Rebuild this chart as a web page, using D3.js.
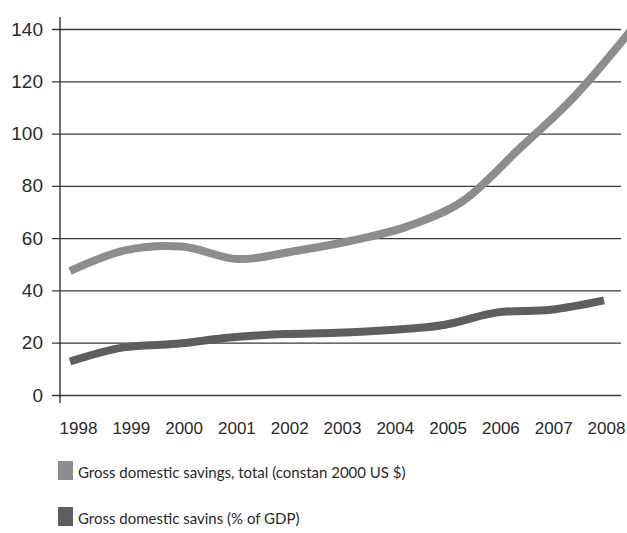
<!DOCTYPE html>
<html>
<head>
<meta charset="utf-8">
<script src="https://cdn.jsdelivr.net/npm/d3@7"></script>
<style>
    body { margin: 0; background: #fff; }
    svg { display: block; font-family: Lato, "Open Sans", sans-serif; }
    .axis text { fill: #2a2a2a; }
</style>
</head>
<body>
<div id="chart"></div>
<script>
//constants
const width = 627,
    height = 533;

//data
const years = ["1998", "1999", "2000", "2001", "2002", "2003", "2004", "2005", "2006", "2007", "2008"];
const savingsTotal = [47.4, 55.4, 56.8, 52.0, 55.0, 58.9, 64.3, 74.0, 93.7, 114, 139];
const savingsPct = [12.8, 18.2, 19.6, 22.0, 23.3, 23.8, 24.9, 26.8, 31.6, 32.6, 36.2];
const yTicks = [0, 20, 40, 60, 80, 100, 120, 140];
const legendLabels = ["Gross domestic savings, total (constan 2000 US $)", "Gross domestic savins (% of GDP)"];
const colors = ["#8d8d8d", "#5e5e60"];

const svg = d3.select("#chart")
    .append("svg")
    .attr("width", width)
    .attr("height", height);

//scales
const yScale = d3.scaleLinear()
    .domain([0, 140])
    .range([395, 29]);

// year labels
const xLabel = d3.scalePoint()
    .domain(years)
    .range([78, 606]);

// the two series are not drawn over the same span in the original
const xTotal = d3.scalePoint().domain(years).range([70, 630]);
const xPct = d3.scalePoint().domain(years).range([70, 604]);

// gridlines + y labels (ticks run from the right edge back past the axis)
const yAxis = d3.axisLeft(yScale)
    .tickValues(yTicks)
    .tickSize(569)
    .tickPadding(9);

const gy = svg.append("g")
    .attr("class", "axis y-axis")
    .attr("transform", `translate(621,0)`)
    .call(yAxis);
gy.select(".domain").remove();
gy.selectAll("line").attr("stroke", "#3a3a3a").attr("stroke-width", 1.3);
gy.selectAll("text").style("font-size", "19px");

// vertical axis line
svg.append("line")
    .attr("x1", 60).attr("x2", 60)
    .attr("y1", 17).attr("y2", 403)
    .attr("stroke", "#222")
    .attr("stroke-width", 1.3);

// x labels
const xAxis = d3.axisBottom(xLabel).tickSize(0).tickPadding(18);
const gx = svg.append("g")
    .attr("class", "axis x-axis")
    .attr("transform", `translate(0,404)`)
    .call(xAxis);
gx.select(".domain").remove();
gx.selectAll("text").style("font-size", "17px");

//lines
const lineTotal = d3.line()
    .x((d, i) => xTotal(years[i]))
    .y(d => yScale(d))
    .curve(d3.curveCatmullRom);

const linePct = d3.line()
    .x((d, i) => xPct(years[i]))
    .y(d => yScale(d))
    .curve(d3.curveCatmullRom);

svg.append("path")
    .datum(savingsTotal)
    .attr("fill", "none")
    .attr("stroke", colors[0])
    .attr("stroke-width", 8)
    .attr("d", lineTotal);

svg.append("path")
    .datum(savingsPct)
    .attr("fill", "none")
    .attr("stroke", colors[1])
    .attr("stroke-width", 8)
    .attr("d", linePct);

//legend
const legend = svg.selectAll(".legend")
    .data(legendLabels)
    .join("g")
    .attr("class", "legend")
    .attr("transform", (d, i) => `translate(58,${461 + i * 46})`);

legend.append("rect")
    .attr("width", 15)
    .attr("height", 19)
    .attr("fill", (d, i) => colors[i]);

legend.append("text")
    .attr("x", 20)
    .attr("y", 17)
    .style("font-size", "15px")
    .attr("fill", "#2a2a2a")
    .text(d => d);
</script>
</body>
</html>
